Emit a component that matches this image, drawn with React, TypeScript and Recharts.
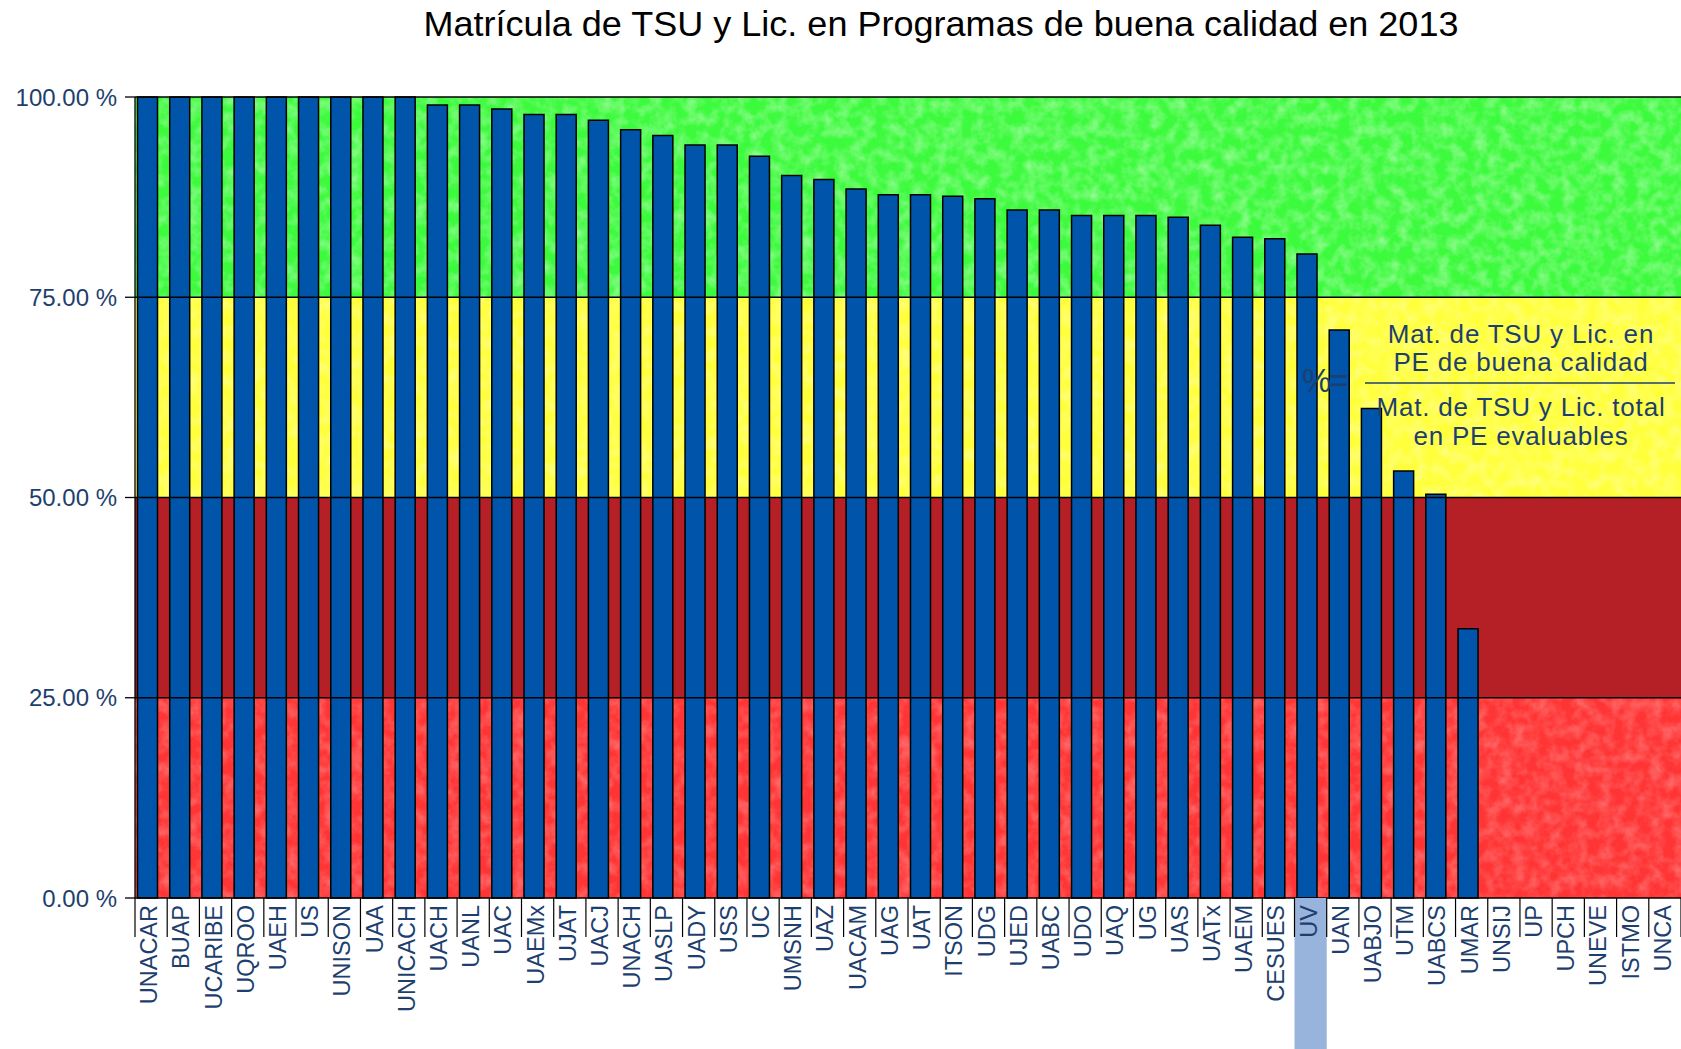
import React from 'react';
import { BarChart, Bar, XAxis, YAxis, ReferenceArea, ReferenceLine, Rectangle } from 'recharts';

const universidades = [
  'UNACAR', 'BUAP', 'UCARIBE', 'UQROO', 'UAEH', 'US', 'UNISON', 'UAA', 'UNICACH', 'UACH',
  'UANL', 'UAC', 'UAEMx', 'UJAT', 'UACJ', 'UNACH', 'UASLP', 'UADY', 'USS', 'UC',
  'UMSNH', 'UAZ', 'UACAM', 'UAG', 'UAT', 'ITSON', 'UDG', 'UJED', 'UABC', 'UDO',
  'UAQ', 'UG', 'UAS', 'UATx', 'UAEM', 'CESUES', 'UV', 'UAN', 'UABJO', 'UTM',
  'UABCS', 'UMAR', 'UNSIJ', 'UP', 'UPCH', 'UNEVE', 'ISTMO', 'UNCA',
];

const porcentajes = [
  100, 100, 100, 100, 100, 100, 100, 100, 100, 99.0,
  99.0, 98.5, 97.8, 97.8, 97.1, 95.9, 95.2, 94.0, 94.0, 92.6,
  90.2, 89.7, 88.5, 87.8, 87.8, 87.6, 87.3, 85.9, 85.9, 85.2,
  85.2, 85.2, 85.0, 84.0, 82.5, 82.3, 80.4, 70.9, 61.1, 53.3,
  50.4, 33.6, 0, 0, 0, 0, 0, 0,
];

const yTicks = [0, 25, 50, 75, 100];
const resaltada = 'UV';
const titulo = 'Matrícula de TSU y Lic. en Programas de buena calidad en 2013';
const numerador = ['Mat. de TSU y Lic. en', 'PE de buena calidad'];
const denominador = ['Mat. de TSU y Lic. total', 'en PE evaluables'];

const data = universidades.map((u, i) => ({ name: u, valor: porcentajes[i] }));

const W = 1681;
const H = 1049;
const Y_AXIS_W = 135;
const X_AXIS_H = 151;
const TOP = 97;
const CAT_W = (W - Y_AXIS_W) / universidades.length;
const FONT = '"Liberation Sans", Arial, sans-serif';
const AZUL_TEXTO = '#1e3f6e';

function TickUniversidad(props: any) {
  const { x, y, payload, index } = props;
  const left = x - CAT_W / 2;
  const esUV = payload.value === resaltada;
  return (
    <g>
      {esUV && <rect x={left} y={y} width={CAT_W} height={H - y} fill="#99b4dc" />}
      <line x1={left} y1={y} x2={left} y2={y + 39} stroke="#000" strokeWidth={1.2} />
      {index === universidades.length - 1 && (
        <line x1={left + CAT_W} y1={y} x2={left + CAT_W} y2={y + 39} stroke="#000" strokeWidth={1.2} />
      )}
      <text
        transform={`translate(${x - 2},${y + 7}) rotate(-90)`}
        textAnchor="end"
        dominantBaseline="central"
        fontSize={23.5}
        fontFamily={FONT}
        fill={AZUL_TEXTO}
      >
        {payload.value}
      </text>
    </g>
  );
}

function Barra(props: any) {
  if (!props.height) return null;
  return <Rectangle {...props} x={props.x - 3.5} fill="#0055aa" stroke="#000" strokeWidth={1.5} />;
}

function Textura({ id, base, fuerza }: { id: string; base: string; fuerza: number }) {
  return (
    <pattern id={id} patternUnits="userSpaceOnUse" width={W} height={H}>
      <rect width={W} height={H} fill={base} />
      <rect width={W} height={H} fill="#fff" filter="url(#moteado)" opacity={fuerza} />
    </pattern>
  );
}

export default function App() {
  return (
    <div style={{ position: 'fixed', left: 0, top: 0, width: W, height: H, background: '#fff', fontFamily: FONT }}>
      <BarChart width={W} height={H} data={data} margin={{ top: TOP, right: 0, left: 0, bottom: 0 }} barSize={20}>
        <defs>
          <filter id="moteado" x="0" y="0" width="100%" height="100%">
            <feTurbulence type="fractalNoise" baseFrequency="0.08" numOctaves={3} seed={7} />
            <feColorMatrix type="matrix" values="0 0 0 0 1  0 0 0 0 1  0 0 0 0 1  0 0 1.4 0 -0.5" />
          </filter>
          <Textura id="texVerde" base="#3cfa3c" fuerza={0.55} />
          <Textura id="texAmarillo" base="#ffff3c" fuerza={0.45} />
          <Textura id="texRojo" base="#ff3535" fuerza={0.35} />
        </defs>
        <ReferenceArea y1={75} y2={100} fill="url(#texVerde)" fillOpacity={1} stroke="none" />
        <ReferenceArea y1={50} y2={75} fill="url(#texAmarillo)" fillOpacity={1} stroke="none" />
        <ReferenceArea y1={25} y2={50} fill="#b51f26" fillOpacity={1} stroke="none" />
        <ReferenceArea y1={0} y2={25} fill="url(#texRojo)" fillOpacity={1} stroke="none" />
        {yTicks.slice(1).map((t) => (
          <ReferenceLine key={t} y={t} stroke="#000" strokeWidth={1.3} />
        ))}
        <XAxis
          dataKey="name"
          interval={0}
          height={X_AXIS_H}
          tickLine={false}
          tickSize={0}
          tickMargin={0}
          axisLine={{ stroke: '#000', strokeWidth: 1.3 }}
          tick={<TickUniversidad />}
        />
        <YAxis
          domain={[0, 100]}
          ticks={yTicks}
          width={Y_AXIS_W}
          tickSize={10}
          tickMargin={8}
          tickLine={{ stroke: '#000', strokeWidth: 1.3 }}
          axisLine={{ stroke: '#000', strokeWidth: 1.3 }}
          tick={{ fill: AZUL_TEXTO, fontSize: 24, fontFamily: FONT }}
          tickFormatter={(v: number) => `${v.toFixed(2)} %`}
        />
        <Bar dataKey="valor" shape={<Barra />} isAnimationActive={false} />
      </BarChart>
      <svg width={W} height={H} style={{ position: 'absolute', left: 0, top: 0, pointerEvents: 'none' }}>
        <text
          x={941}
          y={36}
          textAnchor="middle"
          fontSize={35}
          textLength={1035}
          lengthAdjust="spacingAndGlyphs"
          fontFamily={FONT}
          fill="#000"
        >
          {titulo}
        </text>
        <g fontFamily={FONT} fill={AZUL_TEXTO} fontSize={26} textAnchor="middle" letterSpacing={0.8}>
          <text x={1302} y={392} fontSize={33} textAnchor="start" letterSpacing={-2}>%=</text>
          <text x={1521} y={343}>{numerador[0]}</text>
          <text x={1521} y={371}>{numerador[1]}</text>
          <text x={1521} y={416}>{denominador[0]}</text>
          <text x={1521} y={445}>{denominador[1]}</text>
        </g>
        <line x1={1365} y1={383} x2={1675} y2={383} stroke={AZUL_TEXTO} strokeWidth={1.5} />
      </svg>
    </div>
  );
}
